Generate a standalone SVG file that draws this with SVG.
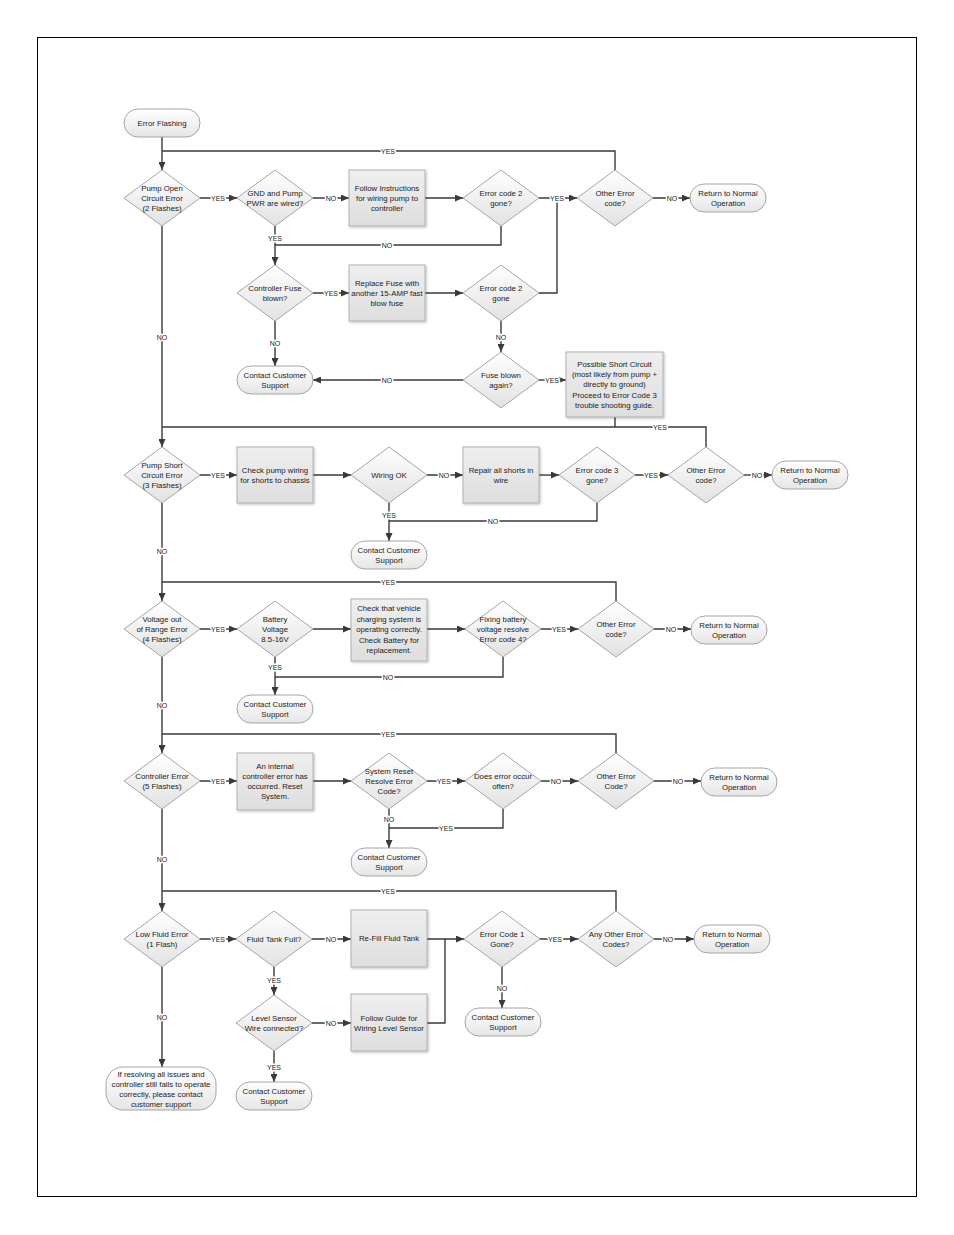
<svg xmlns="http://www.w3.org/2000/svg" width="954" height="1235" viewBox="0 0 954 1235">
<defs>
<linearGradient id="gd" x1="0" y1="0" x2="0" y2="1"><stop offset="0" stop-color="#ffffff"/><stop offset="1" stop-color="#e2e2e2"/></linearGradient>
<linearGradient id="gp" x1="0" y1="0" x2="0" y2="1"><stop offset="0" stop-color="#efefef"/><stop offset="1" stop-color="#dedede"/></linearGradient>
<linearGradient id="gt" x1="0" y1="0" x2="0" y2="1"><stop offset="0" stop-color="#ffffff"/><stop offset="1" stop-color="#e6e6e6"/></linearGradient>
<filter id="sh" x="-10%" y="-10%" width="130%" height="130%"><feDropShadow dx="1.2" dy="1.2" stdDeviation="0.8" flood-color="#000" flood-opacity="0.25"/></filter>
<marker id="ar" markerUnits="userSpaceOnUse" markerWidth="8" markerHeight="7" refX="8" refY="3.5" orient="auto"><path d="M0,0 L8,3.5 L0,7 z" fill="#3a3a3a"/></marker>
<style>
.d{fill:url(#gd);stroke:#9c9c9c;stroke-width:0.9}
.p{fill:url(#gp);stroke:#aaaaaa;stroke-width:0.9;filter:url(#sh)}
.t{fill:url(#gt);stroke:#9c9c9c;stroke-width:0.9}
text{font-family:"Liberation Sans",Arial,sans-serif;font-size:7.8px;fill:#222;text-anchor:middle}
.c{fill:none;stroke:#3a3a3a;stroke-width:1.4}
.a{marker-end:url(#ar)}
.l{font-size:7px;fill:#222;stroke:#fff;stroke-width:3px;paint-order:stroke;stroke-linejoin:round}
</style>
</defs>
<rect x="37.5" y="37.5" width="879" height="1159" fill="#fff" stroke="#000" stroke-width="1"/>

<g id="connectors">
<path class="c a" d="M162,137 V170"/>
<path class="c" d="M615,170 V151 H162"/>
<path class="c a" d="M200,198 H237"/>
<path class="c a" d="M313,198 H349"/>
<path class="c a" d="M425,198 H463"/>
<path class="c a" d="M539,198 H577"/>
<path class="c a" d="M653,198 H690"/>
<path class="c" d="M501,226 V245 H275"/>
<path class="c a" d="M275,226 V265"/>
<path class="c a" d="M313,293 H349"/>
<path class="c a" d="M425,293 H463"/>
<path class="c" d="M539,293 H557 V198"/>
<path class="c a" d="M501,321 V352"/>
<path class="c a" d="M463,380 H313"/>
<path class="c a" d="M275,321 V366"/>
<path class="c a" d="M539,380 H566"/>
<path class="c" d="M615,417 V427"/>
<path class="c a" d="M162,226 V447"/>
<path class="c" d="M706,447 V427 H162"/>
<path class="c a" d="M200,475 H237"/>
<path class="c a" d="M313,475 H351"/>
<path class="c a" d="M427,475 H463"/>
<path class="c a" d="M539,475 H559"/>
<path class="c a" d="M635,475 H668"/>
<path class="c a" d="M744,475 H772"/>
<path class="c" d="M597,503 V521 H389"/>
<path class="c a" d="M389,503 V541"/>
<path class="c a" d="M162,503 V601"/>
<path class="c" d="M616,601 V582 H162"/>
<path class="c a" d="M200,629 H237"/>
<path class="c a" d="M313,629 H351"/>
<path class="c a" d="M427,629 H465"/>
<path class="c a" d="M541,629 H578"/>
<path class="c a" d="M654,629 H691"/>
<path class="c" d="M503,657 V677 H275"/>
<path class="c a" d="M275,657 V695"/>
<path class="c a" d="M162,657 V753"/>
<path class="c" d="M616,753 V734 H162"/>
<path class="c a" d="M200,781 H237"/>
<path class="c a" d="M313,781 H351"/>
<path class="c a" d="M427,781 H465"/>
<path class="c a" d="M541,781 H578"/>
<path class="c a" d="M654,781 H701"/>
<path class="c" d="M503,809 V828 H389"/>
<path class="c a" d="M389,809 V848"/>
<path class="c a" d="M162,809 V911"/>
<path class="c" d="M616,911 V891 H162"/>
<path class="c a" d="M200,939 H236"/>
<path class="c a" d="M312,939 H351"/>
<path class="c a" d="M427,939 H464"/>
<path class="c" d="M427,1023 H445 V939"/>
<path class="c a" d="M540,939 H578"/>
<path class="c a" d="M654,939 H694"/>
<path class="c a" d="M502,967 V1008"/>
<path class="c a" d="M274,967 V995"/>
<path class="c a" d="M312,1023 H351"/>
<path class="c a" d="M274,1051 V1082"/>
<path class="c a" d="M162,967 V1067"/>
<text class="l" x="388" y="153.5">YES</text>
<text class="l" x="218" y="200.5">YES</text>
<text class="l" x="331" y="200.5">NO</text>
<text class="l" x="557" y="200.5">YES</text>
<text class="l" x="672" y="200.5">NO</text>
<text class="l" x="387" y="247.5">NO</text>
<text class="l" x="275" y="240.5">YES</text>
<text class="l" x="331" y="295.5">YES</text>
<text class="l" x="501" y="339.5">NO</text>
<text class="l" x="387" y="382.5">NO</text>
<text class="l" x="275" y="345.5">NO</text>
<text class="l" x="552" y="382.5">YES</text>
<text class="l" x="162" y="339.5">NO</text>
<text class="l" x="660" y="429.5">YES</text>
<text class="l" x="218" y="477.5">YES</text>
<text class="l" x="444" y="477.5">NO</text>
<text class="l" x="651" y="477.5">YES</text>
<text class="l" x="757" y="477.5">NO</text>
<text class="l" x="493" y="523.5">NO</text>
<text class="l" x="389" y="517.5">YES</text>
<text class="l" x="162" y="553.5">NO</text>
<text class="l" x="388" y="584.5">YES</text>
<text class="l" x="218" y="631.5">YES</text>
<text class="l" x="559" y="631.5">YES</text>
<text class="l" x="671" y="631.5">NO</text>
<text class="l" x="388" y="679.5">NO</text>
<text class="l" x="275" y="669.5">YES</text>
<text class="l" x="162" y="707.5">NO</text>
<text class="l" x="388" y="736.5">YES</text>
<text class="l" x="218" y="783.5">YES</text>
<text class="l" x="444" y="783.5">YES</text>
<text class="l" x="556" y="783.5">NO</text>
<text class="l" x="678" y="783.5">NO</text>
<text class="l" x="446" y="830.5">YES</text>
<text class="l" x="389" y="821.5">NO</text>
<text class="l" x="162" y="861.5">NO</text>
<text class="l" x="388" y="893.5">YES</text>
<text class="l" x="218" y="941.5">YES</text>
<text class="l" x="331" y="941.5">NO</text>
<text class="l" x="555" y="941.5">YES</text>
<text class="l" x="668" y="941.5">NO</text>
<text class="l" x="502" y="990.5">NO</text>
<text class="l" x="274" y="982.5">YES</text>
<text class="l" x="331" y="1025.5">NO</text>
<text class="l" x="274" y="1069.5">YES</text>
<text class="l" x="162" y="1019.5">NO</text>
</g>

<g id="start"><rect class="t" x="124" y="109" width="76" height="28" rx="14"/><text x="162" y="125.8">Error Flashing</text></g>
<g id="pumpOpen"><polygon class="d" points="162,170 200,198 162,226 124,198"/><text><tspan x="162" y="190.8">Pump Open</tspan><tspan x="162" y="200.8">Circuit Error</tspan><tspan x="162" y="210.8">(2 Flashes)</tspan></text></g>
<g id="gndWired"><polygon class="d" points="275,170 313,198 275,226 237,198"/><text><tspan x="275" y="195.8">GND and Pump</tspan><tspan x="275" y="205.8">PWR are wired?</tspan></text></g>
<g id="followInstr"><rect class="p" x="349" y="170" width="76" height="56"/><text><tspan x="387" y="190.8">Follow Instructions</tspan><tspan x="387" y="200.8">for wiring pump to</tspan><tspan x="387" y="210.8">controller</tspan></text></g>
<g id="ec2gone1"><polygon class="d" points="501,170 539,198 501,226 463,198"/><text><tspan x="501" y="195.8">Error code 2</tspan><tspan x="501" y="205.8">gone?</tspan></text></g>
<g id="other1"><polygon class="d" points="615,170 653,198 615,226 577,198"/><text><tspan x="615" y="195.8">Other Error</tspan><tspan x="615" y="205.8">code?</tspan></text></g>
<g id="return1"><rect class="t" x="690" y="184" width="76" height="28" rx="14"/><text><tspan x="728" y="195.8">Return to Normal</tspan><tspan x="728" y="205.8">Operation</tspan></text></g>
<g id="fuseBlown"><polygon class="d" points="275,265 313,293 275,321 237,293"/><text><tspan x="275" y="290.8">Controller Fuse</tspan><tspan x="275" y="300.8">blown?</tspan></text></g>
<g id="replaceFuse"><rect class="p" x="349" y="265" width="76" height="56"/><text><tspan x="387" y="285.8">Replace Fuse with</tspan><tspan x="387" y="295.8">another 15-AMP fast</tspan><tspan x="387" y="305.8">blow fuse</tspan></text></g>
<g id="ec2gone2"><polygon class="d" points="501,265 539,293 501,321 463,293"/><text><tspan x="501" y="290.8">Error code 2</tspan><tspan x="501" y="300.8">gone</tspan></text></g>
<g id="fuseAgain"><polygon class="d" points="501,352 539,380 501,408 463,380"/><text><tspan x="501" y="377.8">Fuse blown</tspan><tspan x="501" y="387.8">again?</tspan></text></g>
<g id="contact1"><rect class="t" x="237" y="366" width="76" height="28" rx="14"/><text><tspan x="275" y="377.8">Contact Customer</tspan><tspan x="275" y="387.8">Support</tspan></text></g>
<g id="possibleShort"><rect class="p" x="566" y="352" width="97" height="65"/><text><tspan x="614.5" y="366.5">Possible Short Circuit</tspan><tspan x="614.5" y="376.9">(most likely from pump +</tspan><tspan x="614.5" y="387.3">directly to ground)</tspan><tspan x="614.5" y="397.7">Proceed to Error Code 3</tspan><tspan x="614.5" y="408.1">trouble shooting guide.</tspan></text></g>

<g id="pumpShort"><polygon class="d" points="162,447 200,475 162,503 124,475"/><text><tspan x="162" y="467.8">Pump Short</tspan><tspan x="162" y="477.8">Circuit Error</tspan><tspan x="162" y="487.8">(3 Flashes)</tspan></text></g>
<g id="checkWiring"><rect class="p" x="237" y="447" width="76" height="56"/><text><tspan x="275" y="472.8">Check pump wiring</tspan><tspan x="275" y="482.8">for shorts to chassis</tspan></text></g>
<g id="wiringOk"><polygon class="d" points="389,447 427,475 389,503 351,475"/><text x="389" y="477.8">Wiring OK</text></g>
<g id="repairShorts"><rect class="p" x="463" y="447" width="76" height="56"/><text><tspan x="501" y="472.8">Repair all shorts in</tspan><tspan x="501" y="482.8">wire</tspan></text></g>
<g id="ec3gone"><polygon class="d" points="597,447 635,475 597,503 559,475"/><text><tspan x="597" y="472.8">Error code 3</tspan><tspan x="597" y="482.8">gone?</tspan></text></g>
<g id="other2"><polygon class="d" points="706,447 744,475 706,503 668,475"/><text><tspan x="706" y="472.8">Other Error</tspan><tspan x="706" y="482.8">code?</tspan></text></g>
<g id="return2"><rect class="t" x="772" y="461" width="76" height="28" rx="14"/><text><tspan x="810" y="472.8">Return to Normal</tspan><tspan x="810" y="482.8">Operation</tspan></text></g>
<g id="contact2"><rect class="t" x="351" y="541" width="76" height="28" rx="14"/><text><tspan x="389" y="552.8">Contact Customer</tspan><tspan x="389" y="562.8">Support</tspan></text></g>

<g id="voltage"><polygon class="d" points="162,601 200,629 162,657 124,629"/><text><tspan x="162" y="621.8">Voltage out</tspan><tspan x="162" y="631.8">of Range Error</tspan><tspan x="162" y="641.8">(4 Flashes)</tspan></text></g>
<g id="battery"><polygon class="d" points="275,601 313,629 275,657 237,629"/><text><tspan x="275" y="621.8">Battery</tspan><tspan x="275" y="631.8">Voltage</tspan><tspan x="275" y="641.8">8.5-16V</tspan></text></g>
<g id="checkVehicle"><rect class="p" x="351" y="599" width="76" height="62"/><text><tspan x="389" y="611.4">Check that vehicle</tspan><tspan x="389" y="621.8">charging system is</tspan><tspan x="389" y="632.2">operating correctly.</tspan><tspan x="389" y="642.6">Check Battery for</tspan><tspan x="389" y="653">replacement.</tspan></text></g>
<g id="fixingBattery"><polygon class="d" points="503,601 541,629 503,657 465,629"/><text><tspan x="503" y="621.8">Fixing battery</tspan><tspan x="503" y="631.8">voltage resolve</tspan><tspan x="503" y="641.8">Error code 4?</tspan></text></g>
<g id="other3"><polygon class="d" points="616,601 654,629 616,657 578,629"/><text><tspan x="616" y="626.8">Other Error</tspan><tspan x="616" y="636.8">code?</tspan></text></g>
<g id="return3"><rect class="t" x="691" y="616" width="76" height="28" rx="14"/><text><tspan x="729" y="627.8">Return to Normal</tspan><tspan x="729" y="637.8">Operation</tspan></text></g>
<g id="contact3"><rect class="t" x="237" y="695" width="76" height="28" rx="14"/><text><tspan x="275" y="706.8">Contact Customer</tspan><tspan x="275" y="716.8">Support</tspan></text></g>

<g id="controllerError"><polygon class="d" points="162,753 200,781 162,809 124,781"/><text><tspan x="162" y="778.8">Controller Error</tspan><tspan x="162" y="788.8">(5 Flashes)</tspan></text></g>
<g id="internalError"><rect class="p" x="237" y="753" width="76" height="57"/><text><tspan x="275" y="768.8">An internal</tspan><tspan x="275" y="778.8">controller error has</tspan><tspan x="275" y="788.8">occurred. Reset</tspan><tspan x="275" y="798.8">System.</tspan></text></g>
<g id="systemReset"><polygon class="d" points="389,753 427,781 389,809 351,781"/><text><tspan x="389" y="773.8">System Reset</tspan><tspan x="389" y="783.8">Resolve Error</tspan><tspan x="389" y="793.8">Code?</tspan></text></g>
<g id="errorOften"><polygon class="d" points="503,753 541,781 503,809 465,781"/><text><tspan x="503" y="778.8">Does error occur</tspan><tspan x="503" y="788.8">often?</tspan></text></g>
<g id="other4"><polygon class="d" points="616,753 654,781 616,809 578,781"/><text><tspan x="616" y="778.8">Other Error</tspan><tspan x="616" y="788.8">Code?</tspan></text></g>
<g id="return4"><rect class="t" x="701" y="768" width="76" height="28" rx="14"/><text><tspan x="739" y="779.8">Return to Normal</tspan><tspan x="739" y="789.8">Operation</tspan></text></g>
<g id="contact4"><rect class="t" x="351" y="848" width="76" height="28" rx="14"/><text><tspan x="389" y="859.8">Contact Customer</tspan><tspan x="389" y="869.8">Support</tspan></text></g>

<g id="lowFluid"><polygon class="d" points="162,911 200,939 162,967 124,939"/><text><tspan x="162" y="936.8">Low Fluid Error</tspan><tspan x="162" y="946.8">(1 Flash)</tspan></text></g>
<g id="tankFull"><polygon class="d" points="274,911 312,939 274,967 236,939"/><text x="274" y="941.8">Fluid Tank Full?</text></g>
<g id="refill"><rect class="p" x="351" y="910" width="76" height="57"/><text x="389" y="940.8">Re-Fill Fluid Tank</text></g>
<g id="ec1gone"><polygon class="d" points="502,911 540,939 502,967 464,939"/><text><tspan x="502" y="936.8">Error Code 1</tspan><tspan x="502" y="946.8">Gone?</tspan></text></g>
<g id="other5"><polygon class="d" points="616,911 654,939 616,967 578,939"/><text><tspan x="616" y="936.8">Any Other Error</tspan><tspan x="616" y="946.8">Codes?</tspan></text></g>
<g id="return5"><rect class="t" x="694" y="925" width="76" height="28" rx="14"/><text><tspan x="732" y="936.8">Return to Normal</tspan><tspan x="732" y="946.8">Operation</tspan></text></g>
<g id="contact5"><rect class="t" x="465" y="1008" width="76" height="28" rx="14"/><text><tspan x="503" y="1019.8">Contact Customer</tspan><tspan x="503" y="1029.8">Support</tspan></text></g>
<g id="levelSensor"><polygon class="d" points="274,995 312,1023 274,1051 236,1023"/><text><tspan x="274" y="1020.8">Level Sensor</tspan><tspan x="274" y="1030.8">Wire connected?</tspan></text></g>
<g id="followGuide"><rect class="p" x="351" y="994" width="76" height="57"/><text><tspan x="389" y="1020.8">Follow Guide for</tspan><tspan x="389" y="1030.8">Wiring Level Sensor</tspan></text></g>
<g id="contact6"><rect class="t" x="236" y="1082" width="76" height="28" rx="14"/><text><tspan x="274" y="1093.8">Contact Customer</tspan><tspan x="274" y="1103.8">Support</tspan></text></g>
<g id="finalSupport"><rect class="t" x="106" y="1067" width="110" height="43" rx="17"/><text><tspan x="161" y="1076.8">If resolving all issues and</tspan><tspan x="161" y="1086.8">controller still fails to operate</tspan><tspan x="161" y="1096.8">correctly, please contact</tspan><tspan x="161" y="1106.8">customer support</tspan></text></g>
</svg>
